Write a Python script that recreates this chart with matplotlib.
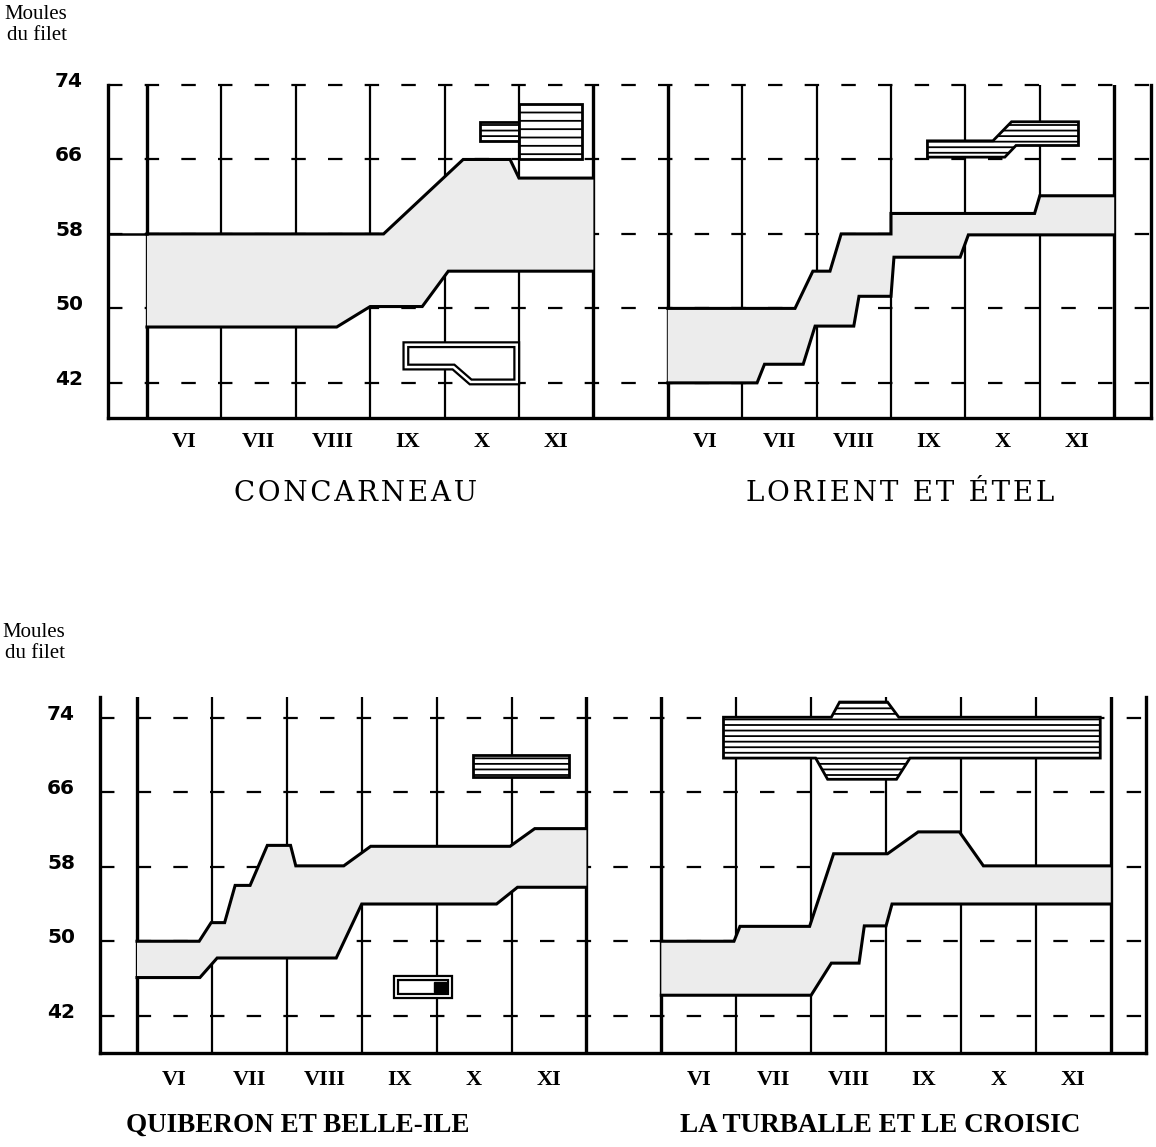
import matplotlib.pyplot as plt
from matplotlib.patches import Polygon
from matplotlib.transforms import ScaledTranslation

plt.rcParams['hatch.linewidth'] = 1.3

# ---------------------------------------------------------------- data
months = ["VI", "VII", "VIII", "IX", "X", "XI"]
levels = [42, 50, 58, 66, 74]
ylab = "Moules\ndu filet"
titles_top = ["CONCARNEAU", "LORIENT ET ÉTEL"]
titles_bot = ["QUIBERON ET BELLE-ILE", "LA TURBALLE ET LE CROISIC"]

# month boundaries (left station 0-6, right station 7-13)
edges_left = [0, 1, 2, 3, 4, 5, 6]
edges_right = [7, 8, 9, 10, 11, 12, 13]

# Concarneau: band of mussel sizes
conc_up_x = [0, 3.18, 4.25, 4.88, 5.0, 6]
conc_up_y = [58, 58, 66, 66, 64, 64]
conc_lo_x = [0, 2.55, 3.0, 3.7, 4.05, 6]
conc_lo_y = [48, 48, 50.2, 50.2, 54, 54]
conc_big_x = [5.0, 5.85]
conc_big_y = [66, 72]
conc_small_x = [4.48, 5.0]
conc_small_y = [68, 70]
conc_out_x = [3.48, 4.97, 4.97, 4.35, 4.12, 3.48]
conc_out_y = [46.1, 46.1, 42.1, 42.1, 43.7, 43.7]

# Lorient et Etel
lor_up_x = [7, 8.71, 8.95, 9.18, 9.33, 10, 10, 11.93, 12.0, 13]
lor_up_y = [50, 50, 54, 54, 58, 58, 60.2, 60.2, 62.1, 62.1]
lor_lo_x = [7, 8.2, 8.3, 8.82, 8.98, 9.5, 9.57, 10.0, 10.04, 10.93, 11.04, 13]
lor_lo_y = [42, 42, 44, 44, 48.1, 48.1, 51.3, 51.3, 55.5, 55.5, 57.9, 57.9]
lor_str_x = [10.49, 11.37, 11.62, 12.52, 12.52, 11.68, 11.53, 10.49]
lor_str_y = [68.0, 68.0, 70.05, 70.05, 67.5, 67.5, 66.25, 66.25]

# Quiberon et Belle-Ile
qui_up_x = [0, 0.83, 0.99, 1.17, 1.31, 1.51, 1.74, 2.05, 2.12, 2.76, 3.12, 4.98, 5.31, 6]
qui_up_y = [50, 50, 52, 52, 56, 56, 60.3, 60.3, 58.1, 58.1, 60.2, 60.2, 62.1, 62.1]
qui_lo_x = [0, 0.84, 1.07, 2.66, 3.0, 4.8, 5.08, 6]
qui_lo_y = [46.1, 46.1, 48.2, 48.2, 54, 54, 55.8, 55.8]
qui_str_x = [4.49, 5.77]
qui_str_y = [67.7, 70.0]
qui_box_x = [3.46, 4.18]
qui_box_y = [44.14, 46.07]
qui_blk_x = [3.97, 4.12]

# La Turballe et le Croisic
tur_up_x = [7, 7.97, 8.05, 8.98, 9.3, 10.02, 10.43, 10.98, 11.3, 13]
tur_up_y = [50, 50, 51.6, 51.6, 59.4, 59.4, 61.75, 61.75, 58.1, 58.1]
tur_lo_x = [7, 9.0, 9.27, 9.64, 9.71, 10.0, 10.08, 13]
tur_lo_y = [44.2, 44.2, 47.65, 47.65, 51.65, 51.65, 54, 54]
tur_str_x = [7.83, 9.27, 9.38, 10.02, 10.17, 12.86, 12.86, 10.32, 10.14, 9.22, 9.06, 7.83]
tur_str_y = [74.07, 74.07, 75.7, 75.7, 74.07, 74.07, 69.68, 69.68, 67.4, 67.4, 69.68, 69.68]


def rect(xr, yr):
    return [xr[0], xr[1], xr[1], xr[0]], [yr[0], yr[0], yr[1], yr[1]]


def spaced(s):
    # slight letter spacing, as in the printed figure
    return "\u200a".join(s)


def setup(ax, xlim, ylim, label_pad):
    ax.set_xlim(*xlim)
    ax.set_ylim(*ylim)
    for y in levels:
        ax.axhline(y, color='black', lw=1.6, ls=(0, (6.5, 10)), zorder=1, clip_on=False)
    for x in edges_left + edges_right:
        thick = x in (0, 6, 7, 13)
        ax.axvline(x, color='black', lw=2.4 if thick else 1.6, zorder=2)
    for s in ['left', 'right', 'bottom']:
        ax.spines[s].set_linewidth(2.4)
    ax.spines['top'].set_visible(False)
    centers = [i + 0.5 for i in edges_left[:-1]] + [i + 0.5 for i in edges_right[:-1]]
    ax.set_xticks(centers)
    ax.set_xticklabels(months + months, fontfamily='Liberation Serif',
                       fontweight='bold', fontsize=16)
    ax.set_yticks(levels)
    ax.set_yticklabels([str(v) for v in levels], fontfamily='DejaVu Sans',
                       fontweight='bold', fontsize=14.5)
    ax.tick_params(axis='both', length=0)
    ax.tick_params(axis='x', pad=label_pad)
    ax.tick_params(axis='y', pad=18)
    off = ScaledTranslation(0, 4 / 72, ax.figure.dpi_scale_trans)
    for lab in ax.get_yticklabels():
        lab.set_transform(lab.get_transform() + off)


def band(ax, ux, uy, lx, ly):
    ax.fill(ux + lx[::-1], uy + ly[::-1], color='#ececec', lw=0, zorder=3)
    ax.plot(ux, uy, color='black', lw=2.2, zorder=4, solid_joinstyle='miter')
    ax.plot(lx, ly, color='black', lw=2.2, zorder=4, solid_joinstyle='miter')


def striped(ax, xs, ys, hatch='---'):
    ax.add_patch(Polygon(list(zip(xs, ys)), closed=True, facecolor='white',
                         edgecolor='black', lw=2, hatch=hatch, zorder=5,
                         joinstyle='miter'))


def double(ax, xs, ys, w=5, inner=1.8):
    pts = list(zip(xs, ys))
    ax.add_patch(Polygon(pts, closed=True, facecolor='white', edgecolor='black',
                         lw=w, zorder=5, joinstyle='miter'))
    ax.add_patch(Polygon(pts, closed=True, fill=False, edgecolor='white',
                         lw=inner, zorder=6, joinstyle='miter'))


fig = plt.figure(figsize=(11.56, 11.47), dpi=100)

# ---------------------------------------------------------------- top row
ax1 = fig.add_axes([0.0934, 0.6356, 0.9023, 0.2903])
setup(ax1, (-0.524, 13.495), (38.23, 74), 10)
band(ax1, conc_up_x, conc_up_y, conc_lo_x, conc_lo_y)
ax1.plot([-0.524, conc_up_x[0]], [conc_up_y[0]] * 2, color='black', lw=1.8, zorder=4)
striped(ax1, *rect(conc_small_x, conc_small_y), hatch='---')
striped(ax1, *rect(conc_big_x, conc_big_y), hatch='--')
double(ax1, conc_out_x, conc_out_y)
band(ax1, lor_up_x, lor_up_y, lor_lo_x, lor_lo_y)
striped(ax1, lor_str_x, lor_str_y, hatch='---')

# ---------------------------------------------------------------- bottom row
ax2 = fig.add_axes([0.0865, 0.0820, 0.9048, 0.3104])
setup(ax2, (-0.494, 13.47), (38.0, 76.25), 12)
band(ax2, qui_up_x, qui_up_y, qui_lo_x, qui_lo_y)
striped(ax2, *rect(qui_str_x, qui_str_y), hatch='---')
double(ax2, *rect(qui_box_x, qui_box_y), w=4.5, inner=1.3)
bx, by = rect(qui_blk_x, [44.6, 45.6])
ax2.fill(bx, by, color='black', zorder=7)
band(ax2, tur_up_x, tur_up_y, tur_lo_x, tur_lo_y)
striped(ax2, tur_str_x, tur_str_y, hatch='---')

# ---------------------------------------------------------------- texts
fig.text(0.004, 0.996, ylab, ha='left', va='top', ma='right',
         fontfamily='Liberation Serif', fontsize=15, linespacing=1.15)
fig.text(0.002, 0.457, ylab, ha='left', va='top', ma='right',
         fontfamily='Liberation Serif', fontsize=15, linespacing=1.15)
fig.text(0.308, 0.570, spaced(titles_top[0]), ha='center', va='center',
         fontfamily='DejaVu Serif', fontsize=20)
fig.text(0.779, 0.570, spaced(titles_top[1]), ha='center', va='center',
         fontfamily='DejaVu Serif', fontsize=20)
fig.text(0.258, 0.019, titles_bot[0], ha='center', va='center',
         fontfamily='Liberation Serif', fontsize=19.5, fontweight='bold')
fig.text(0.761, 0.019, titles_bot[1], ha='center', va='center',
         fontfamily='Liberation Serif', fontsize=19.5, fontweight='bold')

fig.savefig('out.png', dpi=100)
